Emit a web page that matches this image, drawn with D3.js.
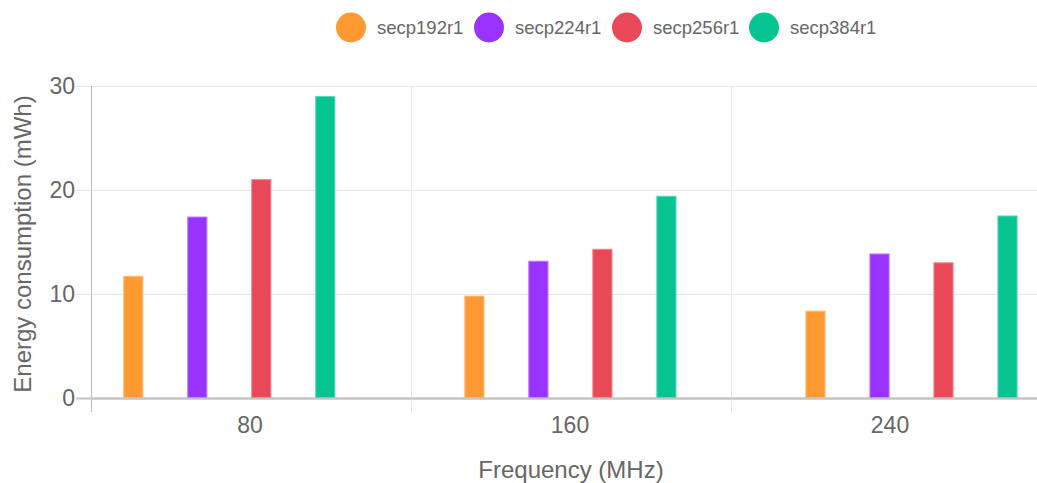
<!DOCTYPE html>
<html>
<head>
<meta charset="utf-8">
<script src="https://cdn.jsdelivr.net/npm/d3@7"></script>
<style>
  html, body { margin: 0; padding: 0; background: #fff; }
  svg { display: block; font-family: "Liberation Sans", Arial, Helvetica, sans-serif; }
</style>
</head>
<body>
<svg id="chart" width="1037" height="483"></svg>
<script>
// ---- data ----
const categories = [80, 160, 240];
const seriesNames = ["secp192r1", "secp224r1", "secp256r1", "secp384r1"];
const secp192r1 = [11.7, 9.8, 8.35];
const secp224r1 = [17.4, 13.15, 13.85];
const secp256r1 = [21.0, 14.3, 13.0];
const secp384r1 = [29.0, 19.4, 17.5];
const seriesColors = ["#ff9a33", "#9933ff", "#e84857", "#05c491"];
const yTicks = [0, 10, 20, 30];
const xTitle = "Frequency (MHz)";
const yTitle = "Energy consumption (mWh)";

const seriesValues = [secp192r1, secp224r1, secp256r1, secp384r1];
const rows = [];
categories.forEach((c, ci) => {
  seriesNames.forEach((s, si) => {
    rows.push({ cat: c, series: s, value: seriesValues[si][ci], color: seriesColors[si] });
  });
});

// ---- layout ----
const svg = d3.select("#chart");
const plot = { left: 91, right: 1051, top: 86, bottom: 398 };

const x = d3.scaleBand().domain(categories).range([plot.left, plot.right]).padding(0);
const y = d3.scaleLinear().domain([0, 30]).range([plot.bottom, plot.top]);
// group centres of the bars (numeric frequency axis)
const xc = d3.scaleLinear().domain([80, 240]).range([229.3, 911.5]);
const inner = d3.scaleBand().domain(seriesNames).range([-x.bandwidth() * 0.4, x.bandwidth() * 0.4]);
const barW = inner.bandwidth() * 0.3;

// ---- grid ----
const grid = svg.append("g");
grid.selectAll("line.h").data(yTicks).join("line")
  .attr("x1", plot.left - 15).attr("x2", 1037)
  .attr("y1", d => y(d) + 0.5).attr("y2", d => y(d) + 0.5)
  .attr("stroke", d => d === 0 ? "#c4c4c4" : "#e6e6e6").attr("stroke-width", d => d === 0 ? 2 : 1);

const vLines = categories.map(c => x(c)).concat([plot.right]);
grid.selectAll("line.v").data(vLines).join("line")
  .attr("x1", d => d + 0.5).attr("x2", d => d + 0.5)
  .attr("y1", plot.top).attr("y2", plot.bottom + 14)
  .attr("stroke", (d, i) => i === 0 ? "#bdbdbd" : "#e6e6e6").attr("stroke-width", 1);

// ---- bars ----
svg.append("g").selectAll("rect").data(rows).join("rect")
  .attr("x", d => xc(d.cat) + inner(d.series) + inner.bandwidth() / 2 - barW / 2)
  .attr("width", barW)
  .attr("y", d => y(d.value))
  .attr("height", d => y(0) - y(d.value))
  .attr("fill", d => d.color)
  .attr("stroke", d => d3.interpolateRgb(d.color, "#ffffff")(0.35))
  .attr("stroke-width", 1);

// redraw baseline on top
svg.append("line").attr("x1", plot.left).attr("x2", 1037)
  .attr("y1", y(0) + 0.5).attr("y2", y(0) + 0.5)
  .attr("stroke", "#c4c4c4").attr("stroke-width", 2);

// ---- axes text ----
svg.append("g").selectAll("text").data(yTicks).join("text")
  .attr("x", plot.left - 16).attr("y", d => y(d)).attr("dy", "0.34em")
  .attr("text-anchor", "end").attr("fill", "#666").attr("font-size", 23)
  .text(d => d);

svg.append("g").selectAll("text").data(categories).join("text")
  .attr("x", d => x(d) + x.bandwidth() / 2 - 1).attr("y", 432.5)
  .attr("text-anchor", "middle").attr("fill", "#666").attr("font-size", 23)
  .text(d => d);

svg.append("text").attr("x", (plot.left + plot.right) / 2).attr("y", 478)
  .attr("text-anchor", "middle").attr("fill", "#666").attr("font-size", 24)
  .text(xTitle);

svg.append("text").attr("transform", `translate(31, ${(plot.top + plot.bottom) / 2 + 2}) rotate(-90)`)
  .attr("text-anchor", "middle").attr("fill", "#666").attr("font-size", 24)
  .text(yTitle);

// ---- legend ----
const legendX = [351, 489, 627, 764];
const lg = svg.append("g").selectAll("g").data(seriesNames).join("g")
  .attr("transform", (d, i) => `translate(${legendX[i]}, 27.5)`);
lg.append("circle").attr("r", 15).attr("fill", (d, i) => seriesColors[i]);
lg.append("text").attr("x", 26).attr("y", 0).attr("dy", "0.35em")
  .attr("fill", "#666").attr("font-size", 18.5).text(d => d);
</script>
</body>
</html>
